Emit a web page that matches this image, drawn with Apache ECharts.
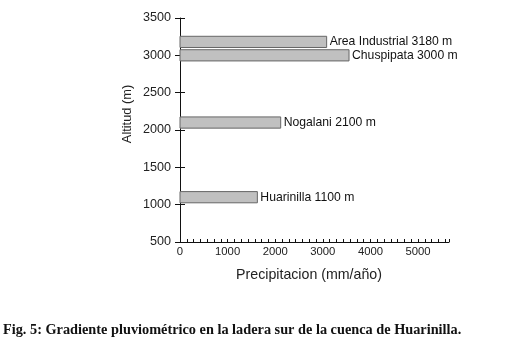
<!DOCTYPE html>
<html>
<head>
<meta charset="utf-8">
<script src="https://cdn.jsdelivr.net/npm/echarts@6/dist/echarts.min.js"></script>
<style>
html,body{margin:0;padding:0;background:#fff;}
#chart{width:530px;height:346px;}
</style>
</head>
<body>
<div id="chart"></div>
<script>
// Data
const stations = ['Area Industrial', 'Chuspipata', 'Nogalani', 'Huarinilla'];
const altitudes = [3180, 3000, 2100, 1100];          // m
const precipitation = [3080, 3550, 2115, 1625];      // mm/año
const barLabels = ['Area Industrial 3180 m', 'Chuspipata 3000 m', 'Nogalani 2100 m', 'Huarinilla 1100 m'];
const yTicks = [500, 1000, 1500, 2000, 2500, 3000, 3500];
const xTicks = [0, 1000, 2000, 3000, 4000, 5000];
const xName = 'Precipitacion (mm/año)';
const yName = 'Altitud (m)';
const caption = 'Fig. 5: Gradiente pluviométrico en la ladera sur de la cuenca de Huarinilla.';

const BAR_THICK = 150; // bar thickness in altitude units

const data = stations.map((s, i) => [precipitation[i], altitudes[i], barLabels[i]]);

const chart = echarts.init(document.getElementById('chart'), null, {renderer: 'canvas'});
const axisFont = 'Liberation Sans';
chart.setOption({
  animation: false,
  backgroundColor: '#fff',
  title: {
    text: caption,
    left: 3, top: 323, padding: 0,
    textStyle: {fontFamily: 'Liberation Serif', fontSize: 14.3, fontWeight: 'bold', color: '#111'}
  },
  graphic: [{
    type: 'text', x: 309, y: 275,
    style: {text: xName, font: '14.2px "Liberation Sans"', fill: '#222', align: 'center', verticalAlign: 'middle'}
  }, {
    type: 'text', x: 127, y: 114, rotation: Math.PI / 2,
    style: {text: yName, font: '12.8px "Liberation Sans"', fill: '#222', align: 'center', verticalAlign: 'middle'}
  }],
  grid: {left: 180, top: 18, right: 81, bottom: 104, containLabel: false},
  xAxis: {
    type: 'value', min: 0, max: 5650, interval: 1000,
    axisLine: {show: true, lineStyle: {color: '#111', width: 1}},
    axisTick: {show: true, inside: true, length: 3, lineStyle: {color: '#111'}},
    minorTick: {show: true, splitNumber: 7, length: 3, lineStyle: {color: '#111'}},
    splitLine: {show: false},
    axisLabel: {fontFamily: axisFont, fontSize: 11.3, color: '#222', margin: 4, showMaxLabel: false,
      formatter: v => xTicks.includes(v) ? String(v) : ''}
  },
  yAxis: [{
    type: 'value', min: 500, max: 3500, interval: 500,
    axisLine: {show: true, lineStyle: {color: '#111', width: 1}},
    axisTick: {show: true, inside: false, length: 5, lineStyle: {color: '#111'}},
    splitLine: {show: false},
    axisLabel: {fontFamily: axisFont, fontSize: 12.6, color: '#222', margin: 9,
      formatter: v => yTicks.includes(v) ? String(v) : ''}
  }, {
    type: 'value', min: 500, max: 3500, interval: 500, position: 'left',
    axisLine: {show: false},
    axisTick: {show: true, inside: true, length: 5, lineStyle: {color: '#111'}},
    axisLabel: {show: false},
    splitLine: {show: false}
  }],
  series: [{
    type: 'custom',
    xAxisIndex: 0, yAxisIndex: 0,
    data: data,
    renderItem: function (params, api) {
      const x = api.value(0), y = api.value(1);
      const p0 = api.coord([0, y + BAR_THICK / 2]);
      const p1 = api.coord([x, y - BAR_THICK / 2]);
      const mid = api.coord([x, y]);
      return {
        type: 'group',
        children: [{
          type: 'rect',
          shape: {x: p0[0], y: p0[1], width: p1[0] - p0[0], height: p1[1] - p0[1]},
          style: {fill: '#c0c0c0', stroke: '#666', lineWidth: 1}
        }, {
          type: 'text',
          style: {
            text: data[params.dataIndex][2],
            x: p1[0] + 3, y: mid[1],
            verticalAlign: 'middle', align: 'left',
            font: '12.2px "Liberation Sans"', fill: '#111'
          }
        }]
      };
    }
  }]
});
</script>
</body>
</html>
